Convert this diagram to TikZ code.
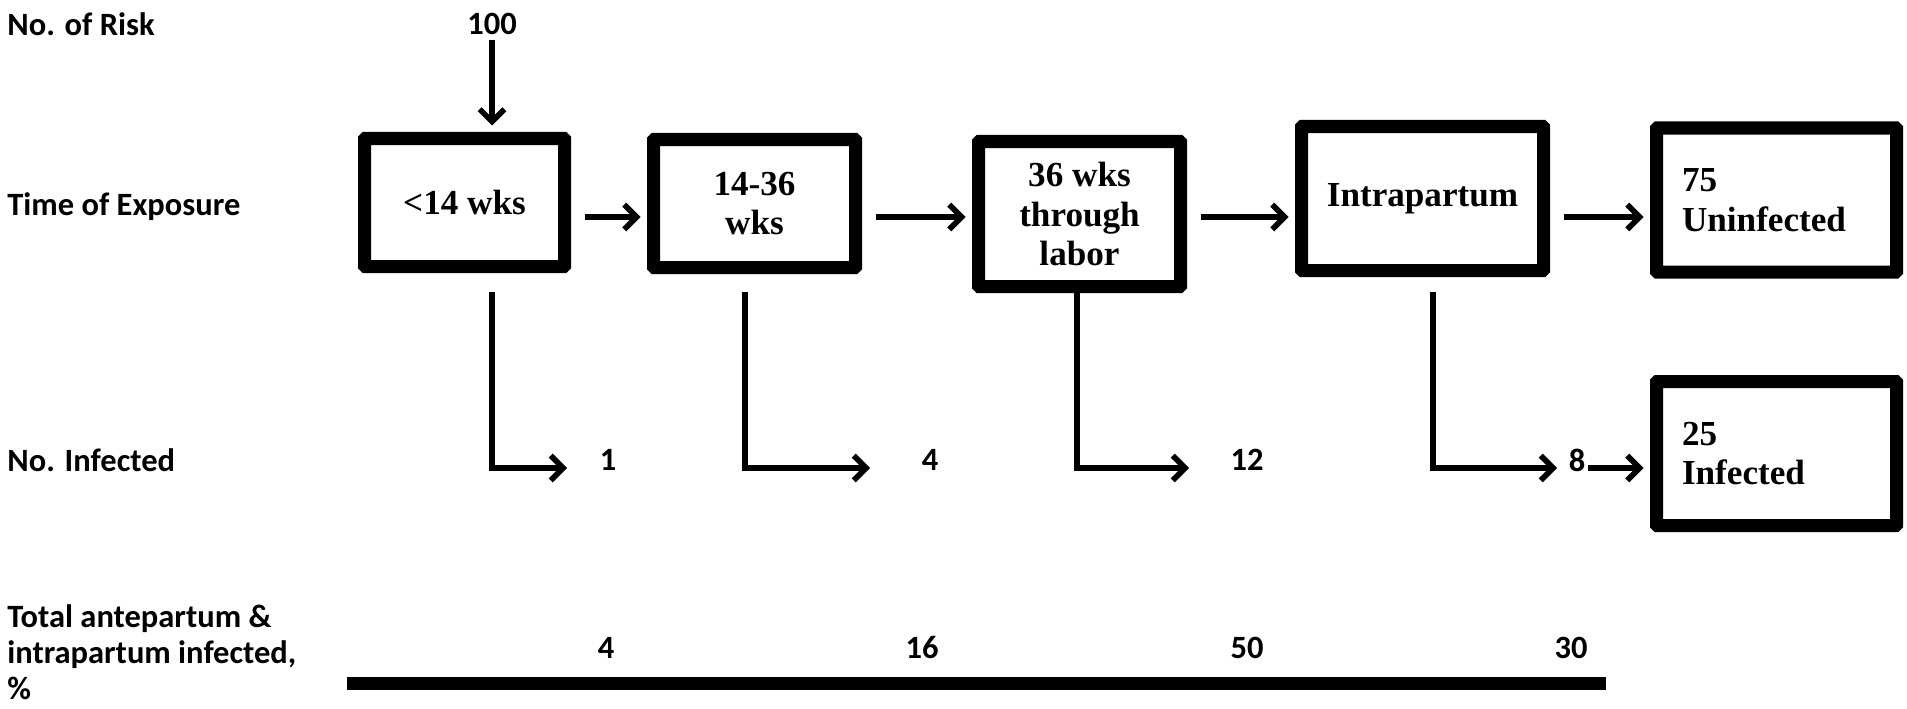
\documentclass[tikz,border=0pt]{standalone}
\usepackage{fontspec}
\setmainfont{Carlito}
\newfontfamily\stagefont{Liberation Serif}
\usetikzlibrary{arrows.meta}

\begin{document}
\begin{tikzpicture}[
          stage/.style={rectangle, draw, line width=7.4pt, rounded corners=0.5pt,
                        inner sep=0pt, align=center,
                        font=\stagefont\bfseries\fontsize{20}{22.5}\selectfont},
          row/.style={anchor=west, inner sep=0pt, align=left,
                      font=\bfseries\fontsize{18.5}{20.5}\selectfont},
          num/.style={inner sep=0pt, font=\bfseries\fontsize{18.5}{20.5}\selectfont},
          arr/.style={-{Straight Barb[length=7pt, width=14pt]}, line width=3.2pt,
                      shorten >=0.13cm}
        ]
        \useasboundingbox (0,0) rectangle (38.14,14.16);

        % Row headings
        \node[row] (lrisk)  at (0.14, 13.68) {No. of Risk};
        \node[row] (ltime)  at (0.14, 10.02) {Time of Exposure};
        \node[row] (linf)   at (0.14, 4.96)  {No. Infected};
        \node[row] (ltotal) at (0.14, 1.12)
              {Total antepartum \&\\intrapartum infected,\\\%};

        % Exposure windows
        \node[stage, minimum width=4.0cm,  minimum height=2.56cm] (b1) at (9.29, 10.11)
              {<14 wks};
        \node[stage, minimum width=4.04cm, minimum height=2.56cm] (b2) at (15.09, 10.09)
              {14-36\\wks};
        \node[stage, minimum width=4.04cm, minimum height=2.9cm]  (b3) at (21.59, 9.88)
              {36 wks\\through\\labor};
        \node[stage, minimum width=4.84cm, minimum height=2.88cm] (b4) at (28.45, 10.19)
              {Intrapartum};

        % Outcomes
        \node[stage, minimum width=4.8cm, minimum height=2.88cm, text width=3.78cm,
              align=left] (b5) at (35.53, 10.16) {75\\Uninfected};
        \node[stage, minimum width=4.8cm, minimum height=2.88cm, text width=3.78cm,
              align=left] (b6) at (35.53, 5.09) {25\\Infected};

        % Counts
        \node[num] (risk) at (9.84, 13.68) {100};
        \node[num] (n1) at (12.16, 4.96) {1};
        \node[num] (n2) at (18.60, 4.96) {4};
        \node[num] (n3) at (24.94, 4.96) {12};
        \node[num] (n4) at (31.54, 4.96) {8};
        \node[num] (p1) at (12.12, 1.20) {4};
        \node[num] (p2) at (18.44, 1.20) {16};
        \node[num] (p3) at (24.94, 1.20) {50};
        \node[num] (p4) at (31.42, 1.20) {30};

        \draw[arr, shorten <=0.1cm] (risk.south) -- (risk |- b1.north);

        \coordinate (flow) at (0, 9.82);
        \foreach \a/\b in {b1/b2, b2/b3, b3/b4, b4/b5} {
          \draw[arr, shorten <=0.28cm] (\a.east |- flow) -- (\b.west |- flow);
        }

        % Drops to the infected counts
        \foreach \b/\x/\t in {b1/9.84/11.34, b2/14.90/17.40, b3/21.54/23.78, b4/28.66/31.14} {
          \coordinate (\b-top) at (\x, 8.32);
          \coordinate (\b-tip) at (\t, 4.80);
          \draw[arr, shorten >=0pt] (\b-top) |- (\b-tip);
        }
        \draw[arr, shorten <=0.05cm] (n4.east |- b4-tip) -- (b6.west |- b4-tip);

        % Rule under the totals
        \draw[line width=7.4pt] (6.94, 0.50) -- (32.12, 0.50);
      \end{tikzpicture}
\end{document}
